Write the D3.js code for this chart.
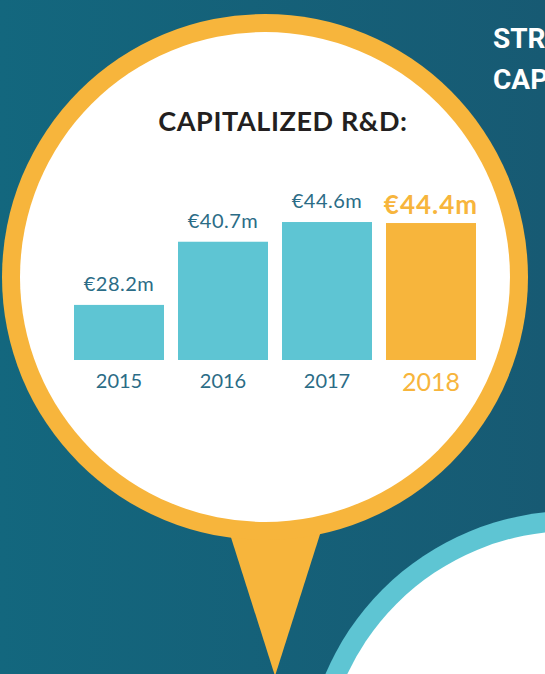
<!DOCTYPE html>
<html>
<head>
<meta charset="utf-8">
<script src="https://cdn.jsdelivr.net/npm/d3@7"></script>
<style>
  html, body { margin: 0; padding: 0; overflow: hidden; }
  svg { display: block; }
</style>
</head>
<body>
<svg id="vis" width="545" height="674"></svg>
<script>
const years = ['2015', '2016', '2017', '2018'];
const values = [28.2, 40.7, 44.6, 44.4];
const valueLabels = ['€28.2m', '€40.7m', '€44.6m', '€44.4m'];
const highlightYear = '2018';
const title = 'CAPITALIZED R&D:';
const sideHeading = ['STRATEGIC', 'CAPITALIZATION'];

const svg = d3.select('#vis');
const width = +svg.attr('width');
const height = +svg.attr('height');

const teal = '#2b6c86';
const cyan = '#5ec5d3';
const orange = '#f7b53c';

// background gradient
const defs = svg.append('defs');
const grad = defs.append('linearGradient').attr('id', 'bg').attr('x1', 0).attr('x2', 1).attr('y1', 0).attr('y2', 0);
grad.append('stop').attr('offset', 0).attr('stop-color', '#13677e');
grad.append('stop').attr('offset', 1).attr('stop-color', '#175a73');
svg.append('rect').attr('width', width).attr('height', height).attr('fill', 'url(#bg)');

// side heading (runs off the right edge, as in the original)
svg.append('g')
  .selectAll('text')
  .data(sideHeading)
  .enter()
  .append('text')
  .attr('x', 493)
  .attr('y', (d, i) => 48 + i * 41)
  .attr('fill', '#fff')
  .style('font-family', 'Roboto, sans-serif')
  .style('font-weight', 700)
  .style('font-size', '28px')
  .text(d => d);

// second bubble, bottom right
svg.append('circle').attr('cx', 572).attr('cy', 779).attr('r', 268).attr('fill', cyan);
svg.append('circle').attr('cx', 572).attr('cy', 779).attr('r', 248).attr('fill', '#fff');

// the pin
const cx = 265, cy = 277;
svg.append('path')
  .attr('d', 'M228,528 L322,528 L275,676 Z')
  .attr('fill', orange);
svg.append('circle').attr('cx', cx).attr('cy', cy).attr('r', 263).attr('fill', orange);
svg.append('circle').attr('cx', cx).attr('cy', cy).attr('r', 245).attr('fill', '#fff');

// title
svg.append('text')
  .attr('x', 283)
  .attr('y', 131)
  .attr('text-anchor', 'middle')
  .attr('fill', '#231f20')
  .style('font-family', 'Lato, sans-serif')
  .style('font-weight', 700)
  .style('font-size', '27px')
  .style('letter-spacing', '0.6px')
  .text(title);

// scales
const x = d3.scaleBand()
  .domain(years)
  .range([74, 476])
  .paddingInner(14 / 104)
  .paddingOuter(0);

const y = d3.scaleLinear()
  .domain([17.3, 45])
  .range([360, 220]);

const data = years.map((yr, i) => ({ year: yr, value: values[i], label: valueLabels[i] }));

// bars
svg.append('g')
  .selectAll('rect')
  .data(data)
  .enter()
  .append('rect')
  .attr('x', d => x(d.year))
  .attr('y', d => y(d.value))
  .attr('width', x.bandwidth())
  .attr('height', d => y.range()[0] - y(d.value))
  .attr('fill', d => d.year === highlightYear ? orange : cyan);

// value labels
svg.append('g')
  .selectAll('text')
  .data(data)
  .enter()
  .append('text')
  .attr('x', d => x(d.year) + x.bandwidth() / 2)
  .attr('y', d => y(d.value) - (d.year === highlightYear ? 9 : 14))
  .attr('text-anchor', 'middle')
  .attr('fill', d => d.year === highlightYear ? orange : teal)
  .style('font-family', 'Lato, sans-serif')
  .style('font-weight', d => d.year === highlightYear ? 700 : 400)
  .style('font-size', d => d.year === highlightYear ? '26px' : '20px')
  .style('letter-spacing', d => d.year === highlightYear ? '1px' : '0.5px')
  .text(d => d.label);

// year axis labels
const axis = d3.axisBottom(x).tickSize(0).tickPadding(0);
const axisG = svg.append('g')
  .attr('transform', `translate(0,${y.range()[0]})`)
  .call(axis);
axisG.select('.domain').remove();
axisG.selectAll('.tick text')
  .attr('dy', null)
  .attr('y', d => d === highlightYear ? 31 : 28)
  .attr('fill', d => d === highlightYear ? orange : teal)
  .style('font-family', 'Lato, sans-serif')
  .style('font-size', d => d === highlightYear ? '25px' : '20px');
</script>
</body>
</html>
